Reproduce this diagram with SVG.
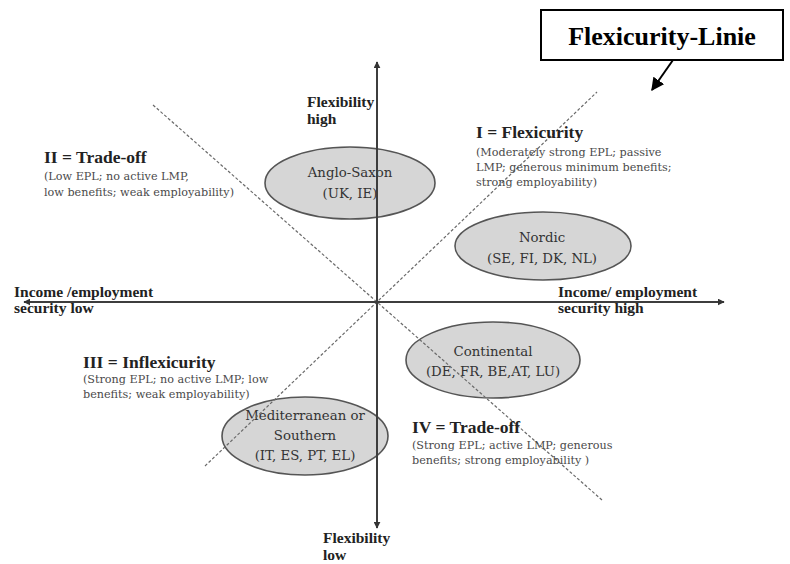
<svg xmlns="http://www.w3.org/2000/svg" width="790" height="564" viewBox="0 0 790 564">
<defs>
<marker id="ah" viewBox="0 0 10 10" refX="9" refY="5" markerWidth="7" markerHeight="7" markerUnits="userSpaceOnUse" orient="auto"><path d="M0,0 L10,5 L0,10 z" fill="#333"/></marker>
<marker id="ahb" viewBox="0 0 10 10" refX="9" refY="5" markerWidth="13" markerHeight="13" markerUnits="userSpaceOnUse" orient="auto"><path d="M0,0 L10,5 L0,10 z" fill="#000"/></marker>
<style>
.ell{fill:#d6d6d6;stroke:#555;stroke-width:1.6}
.et{font-family:"DejaVu Serif","Liberation Serif",serif;font-size:13.3px;fill:#333;text-anchor:middle}
.hd{font-family:"Liberation Serif",serif;font-weight:bold;font-size:17.5px;fill:#222}
.ax{font-family:"Liberation Serif",serif;font-weight:bold;font-size:15.5px;fill:#222}
.sm{font-family:"DejaVu Serif","Liberation Serif",serif;font-size:11.2px;fill:#4a4a4a}
.axis{stroke:#3d3d3d;stroke-width:2;fill:none}
.dash{stroke:#6a6a6a;stroke-width:1.2;stroke-dasharray:3 2;fill:none}
</style>
</defs>
<rect width="790" height="564" fill="#fff"/>

<g id="anglo-saxon"><ellipse class="ell" cx="350" cy="183" rx="85" ry="36"/><text class="et" x="350" y="177">Anglo-Saxon</text><text class="et" x="350" y="198">(UK, IE)</text></g>
<g id="nordic"><ellipse class="ell" cx="543" cy="246" rx="88" ry="34"/><text class="et" x="542" y="242">Nordic</text><text class="et" x="542" y="263">(SE, FI, DK, NL)</text></g>
<g id="continental"><ellipse class="ell" cx="493" cy="360" rx="87" ry="38"/><text class="et" x="493" y="356">Continental</text><text class="et" x="493" y="376">(DE, FR, BE,AT, LU)</text></g>
<g id="mediterranean"><ellipse class="ell" cx="305" cy="436" rx="83" ry="39"/><text class="et" x="305" y="420">Mediterranean or</text><text class="et" x="305" y="440">Southern</text><text class="et" x="305" y="460">(IT, ES, PT, EL)</text></g>

<g id="connectors">
<line class="dash" x1="205" y1="466" x2="597" y2="92"/>
<line class="dash" x1="153" y1="105" x2="602" y2="500"/>
<line class="axis" x1="377" y1="302" x2="377" y2="62" marker-end="url(#ah)"/>
<line class="axis" x1="377" y1="302" x2="377" y2="528" marker-end="url(#ah)"/>
<line class="axis" x1="377" y1="302" x2="24" y2="302" marker-end="url(#ah)"/>
<line class="axis" x1="377" y1="302" x2="724" y2="302" marker-end="url(#ah)"/>
<line x1="673" y1="60" x2="652" y2="90" stroke="#000" stroke-width="2" marker-end="url(#ahb)"/>
</g>

<g id="flexicurity-linie"><rect x="541" y="10" width="242" height="50" fill="#fff" stroke="#000" stroke-width="2"/><text x="662" y="45" font-family="Liberation Serif,serif" font-weight="bold" font-size="26" text-anchor="middle" fill="#000">Flexicurity-Linie</text></g>

<g id="flex-high"><text class="ax" x="307" y="107">Flexibility</text><text class="ax" x="307" y="124">high</text></g>
<g id="flex-low"><text class="ax" x="323" y="543">Flexibility</text><text class="ax" x="323" y="560">low</text></g>
<g id="sec-low"><text class="ax" x="14" y="297">Income /employment</text><text class="ax" x="14" y="313">security low</text></g>
<g id="sec-high"><text class="ax" x="558" y="297">Income/ employment</text><text class="ax" x="558" y="313">security high</text></g>

<g id="q2"><text class="hd" x="44" y="163">II = Trade-off</text><text class="sm" x="44" y="180">(Low EPL; no active LMP,</text><text class="sm" x="44" y="196">low benefits; weak employability)</text></g>
<g id="q1"><text class="hd" x="476" y="138">I = Flexicurity</text><text class="sm" x="476" y="156">(Moderately strong EPL; passive</text><text class="sm" x="476" y="171">LMP; generous minimum benefits;</text><text class="sm" x="476" y="186">strong employability)</text></g>
<g id="q3"><text class="hd" x="83" y="368">III = Inflexicurity</text><text class="sm" x="83" y="383">(Strong EPL; no active LMP; low</text><text class="sm" x="83" y="398">benefits; weak employability)</text></g>
<g id="q4"><text class="hd" x="412" y="433">IV = Trade-off</text><text class="sm" x="412" y="449">(Strong EPL; active LMP; generous</text><text class="sm" x="412" y="464">benefits; strong employability )</text></g>
</svg>
